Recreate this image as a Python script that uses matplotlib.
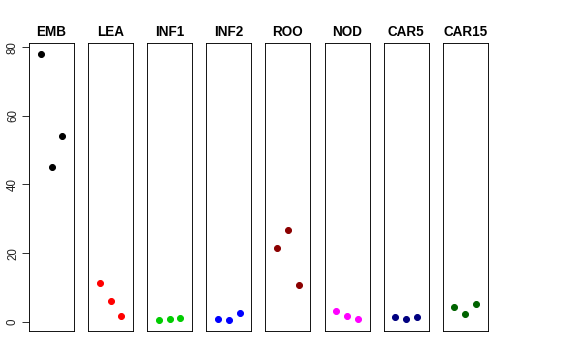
import matplotlib.pyplot as plt
import numpy as np

plt.rcParams["font.family"] = ["Liberation Sans", "DejaVu Sans"]

# Tissue groups and three replicate values each
tissues = ["EMB", "LEA", "INF1", "INF2", "ROO", "NOD", "CAR5", "CAR15"]
colors = ["black", "red", "#00CD00", "blue", "darkred", "magenta", "navy", "darkgreen"]
emb = [78.1, 45.0, 54.1]
lea = [11.3, 6.0, 1.7]
inf1 = [0.4, 0.9, 1.0]
inf2 = [0.7, 0.6, 2.4]
roo = [21.6, 26.6, 10.7]
nod = [3.0, 1.8, 0.8]
car5 = [1.5, 0.7, 1.4]
car15 = [4.3, 2.2, 5.3]
values = [emb, lea, inf1, inf2, roo, nod, car5, car15]
reps = [1, 2, 3]
yticks = [0, 20, 40, 60, 80]

W, H = 576, 360
fig = plt.figure(figsize=(W / 72, H / 72), dpi=72)

lo = min(min(v) for v in values)
hi = max(max(v) for v in values)
pad = 0.04 * (hi - lo)

for i, (name, col, vals) in enumerate(zip(tissues, colors, values)):
    left = 29 + i * 59.1
    ax = fig.add_axes([left / W, 29 / H, 45 / W, 288 / H])
    ax.plot(reps, vals, "o", color=col, markersize=6, linestyle="none")
    ax.set_xlim(-0.1, 4.1)
    ax.set_ylim(lo - pad, hi + pad)
    ax.set_xticks([])
    ax.set_title(name, fontsize=13.5, fontweight="bold", pad=7)
    for s in ax.spines.values():
        s.set_linewidth(0.9)
    if i == 0:
        ax.set_yticks(yticks)
        ax.tick_params(axis="y", length=7, pad=3, labelsize=11.5, labelcolor="#222222")
        for lab in ax.get_yticklabels():
            lab.set_rotation(90)
            lab.set_va("center")
    else:
        ax.set_yticks([])

plt.savefig("out.png", dpi=72)
